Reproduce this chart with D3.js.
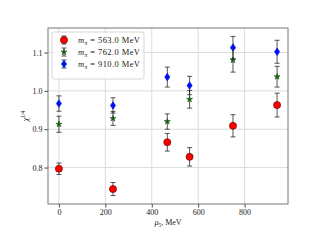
<!DOCTYPE html>
<html>
<head>
<meta charset="utf-8">
<script src="https://cdn.jsdelivr.net/npm/d3@7"></script>
<style>
  body { margin: 0; background: #fff; }
  svg text { font-family: 'Liberation Serif', 'DejaVu Serif', serif; fill: #222; }
</style>
</head>
<body>
<div id="chart"></div>
<script>
// mu5 values (MeV)
const mu5 = [0, 233, 467, 563, 750, 940]
const series = ['563.0', '762.0', '910.0']
const chi563 = [0.797, 0.744, 0.866, 0.828, 0.909, 0.963]
const err563 = [0.015, 0.017, 0.023, 0.024, 0.029, 0.031]
const chi762 = [0.913, 0.928, 0.920, 0.978, 1.080, 1.037]
const err762 = [0.021, 0.018, 0.020, 0.023, 0.031, 0.027]
const chi910 = [0.967, 0.962, 1.036, 1.014, 1.113, 1.102]
const err910 = [0.020, 0.020, 0.026, 0.024, 0.029, 0.030]
const xTicks = [0, 200, 400, 600, 800]
const yTicks = [0.8, 0.9, 1.0, 1.1]

const svgWidth = 320
const svgHeight = 240
const margin = { top: 28, right: 32, bottom: 36, left: 48 }
const width = svgWidth - margin.left - margin.right
const height = svgHeight - margin.top - margin.bottom

let svg = d3.select('#chart').append('svg')
    .attr('width', svgWidth)
    .attr('height', svgHeight)

let g = svg.append('g')
    .attr('transform', 'translate(' + margin.left + ',' + margin.top + ')')

let xScale = d3.scaleLinear().domain([-47, 987]).range([0, width])
let yScale = d3.scaleLinear().domain([0.705, 1.164]).range([height, 0])

// grid
g.append('g').selectAll('line').data(xTicks).enter().append('line')
    .attr('x1', d => xScale(d)).attr('x2', d => xScale(d))
    .attr('y1', 0).attr('y2', height)
    .style('stroke', '#dcdcdc').style('stroke-width', 1)
g.append('g').selectAll('line').data(yTicks).enter().append('line')
    .attr('y1', d => yScale(d)).attr('y2', d => yScale(d))
    .attr('x1', 0).attr('x2', width)
    .style('stroke', '#dcdcdc').style('stroke-width', 1)

// axes
let xAxis = g.append('g').attr('transform', 'translate(0,' + height + ')')
    .call(d3.axisBottom(xScale).tickValues(xTicks).tickFormat(d3.format('d')).tickSize(3.5).tickPadding(2))
let yAxis = g.append('g')
    .call(d3.axisLeft(yScale).tickValues(yTicks).tickFormat(d3.format('.1f')).tickSize(3.5).tickPadding(2))
;[xAxis, yAxis].forEach(a => {
    a.select('.domain').remove()
    a.selectAll('text').style('font-size', '8px').style('font-family', "'Liberation Serif', serif").style('fill', '#222')
    a.selectAll('.tick line').style('stroke', '#444')
})

// frame
g.append('rect').attr('x', 0).attr('y', 0).attr('width', width).attr('height', height)
    .style('fill', 'none').style('stroke', '#777').style('stroke-width', 1)

const seriesData = [
    { vals: chi563, errs: err563, color: '#ff0000', shape: 'circle' },
    { vals: chi762, errs: err762, color: '#1a5c14', shape: 'star' },
    { vals: chi910, errs: err910, color: '#0011ee', shape: 'diamond' }
]

function markerPath (shape) {
    if (shape === 'circle') return d3.symbol().type(d3.symbolCircle).size(40)()
    if (shape === 'star') return d3.symbol().type(d3.symbolStar).size(11)()
    return 'M0,-3.8L2.6,0L0,3.8L-2.6,0Z'
}

function drawErrorBar (sel, x, y0, y1) {
    sel.append('line').attr('x1', x).attr('x2', x).attr('y1', y0).attr('y2', y1)
        .style('stroke', '#111').style('stroke-width', 1).style('opacity', 0.7)
    ;[y0, y1].forEach(yy => {
        sel.append('line').attr('x1', x - 2.5).attr('x2', x + 2.5).attr('y1', yy).attr('y2', yy)
            .style('stroke', '#111').style('stroke-width', 1).style('opacity', 0.7)
    })
}

seriesData.forEach(s => {
    let sg = g.append('g')
    mu5.forEach((m, i) => {
        let x = xScale(m)
        drawErrorBar(sg, x, yScale(s.vals[i] + s.errs[i]), yScale(s.vals[i] - s.errs[i]))
    })
    sg.selectAll('path').data(mu5).enter().append('path')
        .attr('d', markerPath(s.shape))
        .attr('transform', (m, i) => 'translate(' + xScale(m) + ',' + yScale(s.vals[i]) + ')')
        .style('fill', s.color).style('stroke', s.shape === 'circle' ? '#550000' : s.color)
        .style('stroke-width', 0.6)
})

// legend
let legend = g.append('g').attr('transform', 'translate(4,4)')
legend.append('rect').attr('x', 0).attr('y', 0).attr('width', 92).attr('height', 47).attr('rx', 2)
    .style('fill', '#fff').style('fill-opacity', 0.8).style('stroke', '#d8d8d8')
seriesData.forEach((s, i) => {
    let ly = 8 + i * 12
    let lg = legend.append('g')
    drawErrorBar(lg, 12, ly - 4, ly + 4)
    lg.append('path').attr('d', markerPath(s.shape))
        .attr('transform', 'translate(12,' + ly + ')')
        .style('fill', s.color).style('stroke', s.shape === 'circle' ? '#550000' : s.color)
        .style('stroke-width', 0.6)
    let t = lg.append('text').attr('x', 26).attr('y', ly + 3).style('font-size', '8.5px')
        .attr('textLength', 62).attr('lengthAdjust', 'spacing')
    t.append('tspan').text('m').style('font-style', 'italic')
    t.append('tspan').text('π').style('font-style', 'italic').style('font-size', '5.5px').attr('dy', 1.5)
    t.append('tspan').text(' = ' + series[i] + ' MeV').attr('dy', -1.5)
})

// axis labels
let xl = svg.append('text').attr('x', 168).attr('y', 225)
    .attr('text-anchor', 'middle').style('font-size', '8px')
xl.append('tspan').text('μ').style('font-style', 'italic')
xl.append('tspan').text('5').style('font-size', '5.5px').attr('dy', 1.5)
xl.append('tspan').text(', MeV').attr('dy', -1.5)

let yl = svg.append('text').attr('transform', 'translate(28,' + (margin.top + height / 2) + ') rotate(-90)')
    .attr('text-anchor', 'middle').style('font-size', '8px')
yl.append('tspan').text('χ').style('font-style', 'italic')
yl.append('tspan').text('1/4').style('font-size', '5.5px').attr('dy', -3)
</script>
</body>
</html>
